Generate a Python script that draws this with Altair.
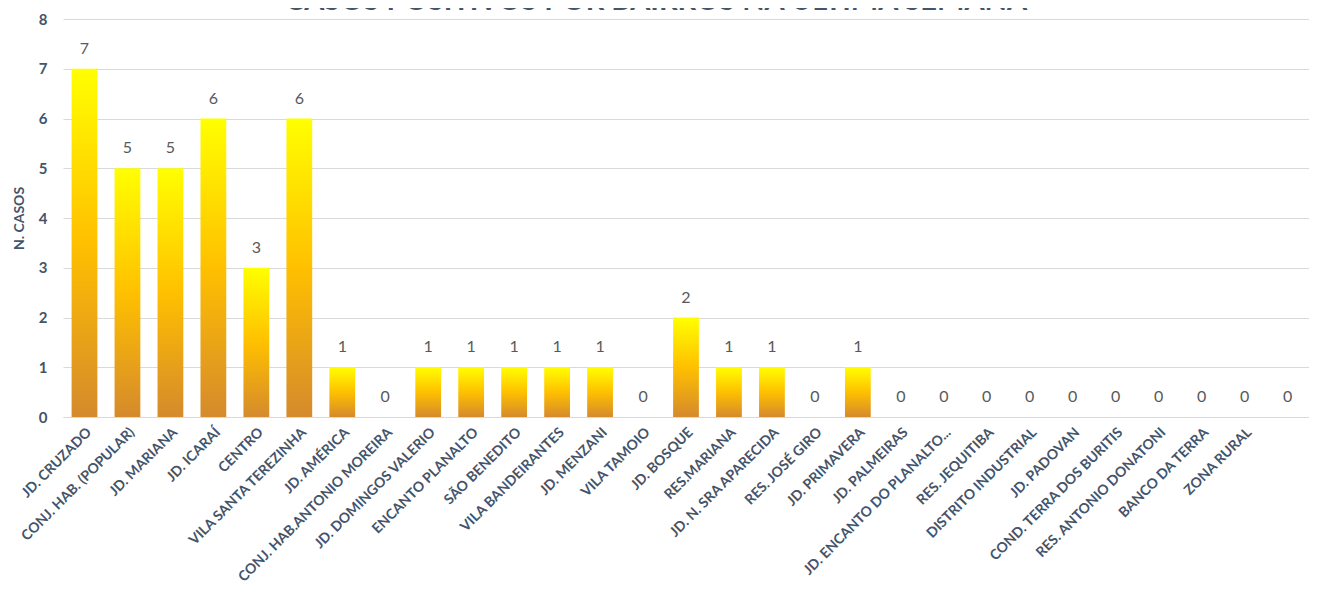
import altair as alt
import pandas as pd

titulo = ["CASOS POSITIVOS POR BAIRROS NA ÚLTIMA SEMANA"]

bairros = [
    "JD. CRUZADO", "CONJ. HAB. (POPULAR)", "JD. MARIANA", "JD. ICARAÍ", "CENTRO",
    "VILA SANTA TEREZINHA", "JD. AMÉRICA", "CONJ. HAB.ANTONIO MOREIRA",
    "JD. DOMINGOS VALERIO", "ENCANTO PLANALTO", "SÃO BENEDITO", "VILA BANDEIRANTES",
    "JD. MENZANI", "VILA TAMOIO", "JD. BOSQUE", "RES.MARIANA", "JD. N. SRA APARECIDA",
    "RES. JOSÉ GIRO", "JD. PRIMAVERA", "JD. PALMEIRAS", "JD. ENCANTO DO PLANALTO...",
    "RES. JEQUITIBA", "DISTRITO INDUSTRIAL", "JD. PADOVAN", "COND. TERRA DOS BURITIS",
    "RES. ANTONIO DONATONI", "BANCO DA TERRA", "ZONA RURAL", " ",
]
casos = [7, 5, 5, 6, 3, 6, 1, 0, 1, 1, 1, 1, 1, 0, 2, 1, 1, 0, 1, 0, 0, 0, 0, 0, 0, 0, 0, 0, 0]

df = pd.DataFrame({"bairro": bairros, "casos": casos})
df_t = pd.DataFrame({"t": titulo})

FONT = "Lato"
TXT = "#44546A"

grad = alt.Gradient(
    gradient="linear",
    stops=[
        alt.GradientStop(color="#FFFF00", offset=0),
        alt.GradientStop(color="#FFC000", offset=0.5),
        alt.GradientStop(color="#D58A2C", offset=1),
    ],
    x1=0, x2=0, y1=0, y2=1,
)

x = alt.X(
    "bairro:N", sort=bairros, title=None,
    scale=alt.Scale(paddingInner=0.4, paddingOuter=0.2),
    axis=alt.Axis(labelAngle=-45, labelFont=FONT, labelFontWeight="bold",
                  labelFontSize=14, labelColor=TXT, ticks=False,
                  domainColor="#D9D9D9", labelPadding=8, labelLimit=300),
)
y = alt.Y(
    "casos:Q", title="N. CASOS",
    scale=alt.Scale(domain=[0, 8]),
    axis=alt.Axis(values=list(range(9)), labelFont=FONT, labelFontWeight="bold",
                  labelFontSize=15, labelColor=TXT, ticks=False, domain=False,
                  gridColor="#D9D9D9", labelPadding=16,
                  titleFont=FONT, titleFontSize=14, titleFontWeight="bold",
                  titleColor=TXT, titlePadding=12),
)

bars = alt.Chart(df).mark_bar(color=grad).encode(x=x, y=y)
labels = alt.Chart(df).mark_text(
    font=FONT, fontSize=16, color="#595959", baseline="bottom", dy=-12
).encode(x=x, y=y, text="casos:Q")

title = alt.Chart(df_t).mark_text(
    font=FONT, fontSize=29, fontWeight="bold", color=TXT,
    align="center", baseline="alphabetic",
).encode(text="t:N", x=alt.value(593), y=alt.value(-9))

chart = (bars + labels + title).properties(
    width=1246, height=398,
    autosize=alt.AutoSizeParams(type="none"),
    padding={"left": 55, "top": 11, "right": 0, "bottom": 176},
).configure_view(stroke=None)

chart.save("out.html", embed_options={"renderer": "svg", "actions": False})
